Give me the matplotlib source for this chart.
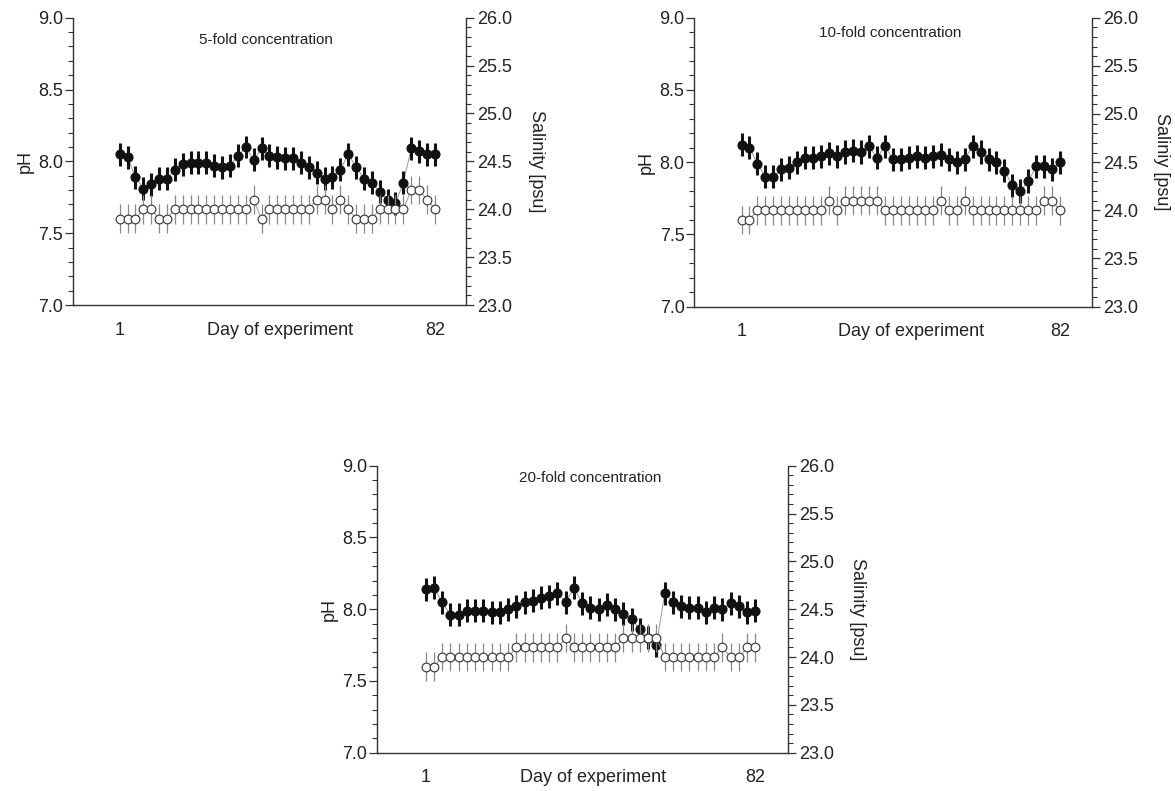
import numpy as np
import matplotlib.pyplot as plt
from matplotlib.ticker import MultipleLocator
from matplotlib.transforms import ScaledTranslation

plt.rcParams['font.family'] = ['Liberation Sans', 'DejaVu Sans']

# sampling days (41 samples, day 1 ... day 82)
days = np.linspace(1, 82, 41)

# pH (filled circles, left axis)
ph_5fold = [8.05, 8.03, 7.89, 7.81, 7.84, 7.88, 7.88, 7.94, 7.98, 7.99,
            7.99, 7.99, 7.97, 7.96, 7.97, 8.04, 8.10, 8.01, 8.09, 8.04,
            8.03, 8.02, 8.02, 7.99, 7.96, 7.92, 7.88, 7.89, 7.94, 8.05,
            7.96, 7.88, 7.85, 7.79, 7.73, 7.71, 7.85, 8.09, 8.07, 8.05,
            8.05]
ph_10fold = [8.12, 8.10, 7.99, 7.90, 7.90, 7.95, 7.96, 8.00, 8.03, 8.03,
             8.04, 8.06, 8.04, 8.07, 8.08, 8.07, 8.11, 8.03, 8.11, 8.02,
             8.02, 8.03, 8.04, 8.03, 8.04, 8.05, 8.02, 8.00, 8.02, 8.11,
             8.07, 8.02, 8.00, 7.94, 7.84, 7.80, 7.87, 7.97, 7.97, 7.95,
             8.00]
ph_20fold = [8.14, 8.15, 8.05, 7.96, 7.96, 7.99, 7.99, 7.99, 7.98, 7.98,
             8.00, 8.02, 8.05, 8.06, 8.08, 8.09, 8.11, 8.05, 8.15, 8.04,
             8.01, 8.00, 8.03, 8.00, 7.97, 7.93, 7.86, 7.80, 7.75, 8.11,
             8.05, 8.02, 8.01, 8.01, 7.98, 8.01, 8.00, 8.04, 8.02, 7.98,
             7.99]

# salinity [psu] (open circles, right axis)
sal_5fold = [23.9, 23.9, 23.9, 24.0, 24.0, 23.9, 23.9, 24.0, 24.0, 24.0,
             24.0, 24.0, 24.0, 24.0, 24.0, 24.0, 24.0, 24.1, 23.9, 24.0,
             24.0, 24.0, 24.0, 24.0, 24.0, 24.1, 24.1, 24.0, 24.1, 24.0,
             23.9, 23.9, 23.9, 24.0, 24.0, 24.0, 24.0, 24.2, 24.2, 24.1,
             24.0]
sal_10fold = [23.9, 23.9, 24.0, 24.0, 24.0, 24.0, 24.0, 24.0, 24.0, 24.0,
              24.0, 24.1, 24.0, 24.1, 24.1, 24.1, 24.1, 24.1, 24.0, 24.0,
              24.0, 24.0, 24.0, 24.0, 24.0, 24.1, 24.0, 24.0, 24.1, 24.0,
              24.0, 24.0, 24.0, 24.0, 24.0, 24.0, 24.0, 24.0, 24.1, 24.1,
              24.0]
sal_20fold = [23.9, 23.9, 24.0, 24.0, 24.0, 24.0, 24.0, 24.0, 24.0, 24.0,
              24.0, 24.1, 24.1, 24.1, 24.1, 24.1, 24.1, 24.2, 24.1, 24.1,
              24.1, 24.1, 24.1, 24.1, 24.2, 24.2, 24.2, 24.2, 24.2, 24.0,
              24.0, 24.0, 24.0, 24.0, 24.0, 24.0, 24.1, 24.0, 24.0, 24.1,
              24.1]

ph_err = 0.08
sal_err = 0.15

titles = ["5-fold concentration", "10-fold concentration", "20-fold concentration"]
sal_labels = ["Salinity [psu]", "Saliniy [psu]", "Salinity [psu]"]
x_ticks = [1, 82]

TXT = '#222222'


def draw_panel(fig, rect, ph, sal, title, sal_label, title_xy, xlabel_x):
    ax = fig.add_axes(rect)

    # pH: thin connecting line + filled circles with thick bars
    ax.plot(days, ph, '-', color='#999999', lw=0.7, zorder=1)
    ax.errorbar(days, ph, yerr=ph_err, fmt='o', color='#111111', ms=6.3,
                elinewidth=2.2, capsize=0, zorder=3)

    ax.set_xlim(-11, 90)
    ax.set_ylim(7.0, 9.0)
    ax.set_xticks(x_ticks)
    ax.set_xticklabels([str(v) for v in x_ticks])
    ax.yaxis.set_major_locator(MultipleLocator(0.5))
    ax.yaxis.set_minor_locator(MultipleLocator(0.1))
    ax.yaxis.set_major_formatter(plt.FormatStrFormatter('%.1f'))

    for s in ['top', 'right']:
        ax.spines[s].set_visible(False)
    for s in ['left', 'bottom']:
        ax.spines[s].set_color('#333333')
        ax.spines[s].set_linewidth(1.0)

    ax.tick_params(axis='x', length=0, pad=12, labelsize=13, labelcolor=TXT)
    ax.tick_params(axis='y', which='major', direction='out', length=6,
                   width=0.9, pad=1, labelsize=13, labelcolor=TXT, color='#333333')
    ax.tick_params(axis='y', which='minor', direction='out', length=3.5,
                   width=0.8, color='#333333')

    ax.set_ylabel('pH', fontsize=13, color=TXT, labelpad=3)
    ax.set_xlabel('Day of experiment', fontsize=13, color=TXT, va='top')
    off = ScaledTranslation(0, -12 / 72, fig.dpi_scale_trans)
    ax.xaxis.set_label_coords(xlabel_x, 0, transform=ax.transAxes + off)

    ax.text(title_xy[0], title_xy[1], title, transform=ax.transAxes,
            ha='center', va='center', fontsize=11, color=TXT)

    # salinity on the right axis: open circles
    ax2 = ax.twinx()
    ax2.plot(days, sal, '-', color='#999999', lw=0.7, zorder=1)
    ax2.errorbar(days, sal, yerr=sal_err, fmt='o', mfc='white', mec='#333333',
                 mew=0.8, ms=6.3, ecolor='#888888', elinewidth=0.9, capsize=0,
                 zorder=3)
    ax2.set_ylim(23.0, 26.0)
    ax2.yaxis.set_major_locator(MultipleLocator(0.5))
    ax2.yaxis.set_minor_locator(MultipleLocator(0.1))
    ax2.yaxis.set_major_formatter(plt.FormatStrFormatter('%.1f'))
    for s in ['top', 'left', 'bottom']:
        ax2.spines[s].set_visible(False)
    ax2.spines['right'].set_color('#333333')
    ax2.spines['right'].set_linewidth(1.0)
    ax2.tick_params(axis='y', which='major', direction='out', length=6,
                    width=0.9, pad=2, labelsize=13, labelcolor=TXT, color='#333333')
    ax2.tick_params(axis='y', which='minor', direction='out', length=3.5,
                    width=0.8, color='#333333')
    ax2.set_ylabel(sal_label, rotation=270, va='bottom', fontsize=13,
                   color=TXT, labelpad=11)
    return ax, ax2


fig = plt.figure(figsize=(11.75, 7.91), dpi=100)

draw_panel(fig, [0.0621, 0.6144, 0.3345, 0.3632], ph_5fold, sal_5fold,
           titles[0], sal_labels[0], (0.49, 0.922), 0.527)
draw_panel(fig, [0.5909, 0.6123, 0.3382, 0.3654], ph_10fold, sal_10fold,
           titles[1], sal_labels[1], (0.492, 0.947), 0.545)
draw_panel(fig, [0.3206, 0.0484, 0.3500, 0.3628], ph_20fold, sal_20fold,
           titles[2], sal_labels[2], (0.518, 0.957), 0.527)

fig.savefig('out.png', dpi=100)
